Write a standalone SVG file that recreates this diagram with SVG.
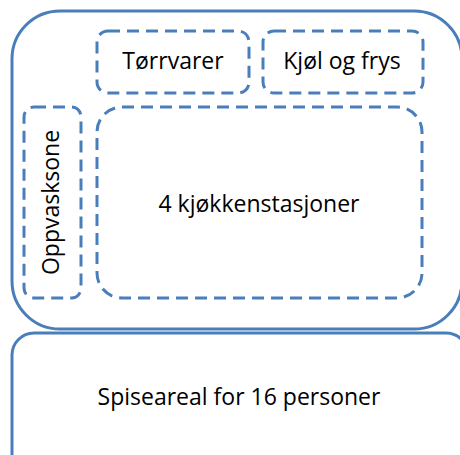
<svg xmlns="http://www.w3.org/2000/svg" width="460" height="455" viewBox="0 0 460 455">
<style>
.solid{fill:#ffffff;stroke:#4a7ebb;stroke-width:3}
.dash{fill:none;stroke:#4a7ebb;stroke-width:3;stroke-dasharray:12 7}
.lbl{font-family:"Open Sans","Liberation Sans",sans-serif;font-size:23px;fill:#000000;text-anchor:middle}
</style>
<rect x="0" y="0" width="460" height="455" fill="#ffffff"/>
<g id="kitchen">
<rect class="solid" x="12" y="11" width="450" height="318" rx="48" ry="48"/>
</g>
<g id="tørrvarer">
<rect class="dash" x="97" y="31" width="152" height="62" rx="11" ry="11"/>
<text class="lbl" x="173" y="69">Tørrvarer</text>
</g>
<g id="kjol-og-frys">
<rect class="dash" x="263" y="31" width="160" height="62" rx="11" ry="11"/>
<text class="lbl" x="342" y="69">Kjøl og frys</text>
</g>
<g id="oppvasksone">
<rect class="dash" x="24" y="107" width="57" height="191" rx="10" ry="10"/>
<text class="lbl" transform="translate(58.5,202.5) rotate(-90)">Oppvasksone</text>
</g>
<g id="kjokkenstasjoner">
<rect class="dash" x="97" y="107" width="325" height="191" rx="25" ry="25"/>
<text class="lbl" x="259" y="212">4 kjøkkenstasjoner</text>
</g>
<g id="spiseareal">
<rect class="solid" x="12" y="333" width="456" height="150" rx="22" ry="22"/>
<text class="lbl" x="239" y="405">Spiseareal for 16 personer</text>
</g>
</svg>
